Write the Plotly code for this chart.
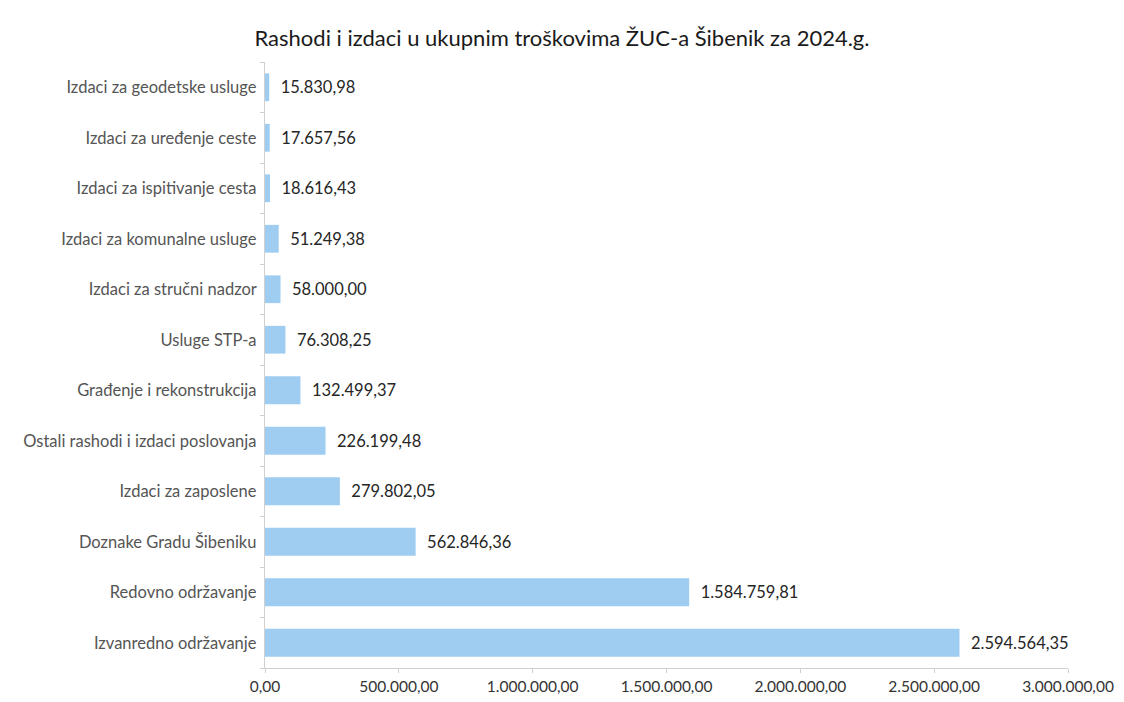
import plotly.graph_objects as go

categories = [
    "Izvanredno održavanje",
    "Redovno održavanje",
    "Doznake Gradu Šibeniku",
    "Izdaci za zaposlene",
    "Ostali rashodi i izdaci poslovanja",
    "Građenje i rekonstrukcija",
    "Usluge STP-a",
    "Izdaci za stručni nadzor",
    "Izdaci za komunalne usluge",
    "Izdaci za ispitivanje cesta",
    "Izdaci za uređenje ceste",
    "Izdaci za geodetske usluge",
]
values = [
    2594564.35,
    1584759.81,
    562846.36,
    279802.05,
    226199.48,
    132499.37,
    76308.25,
    58000.00,
    51249.38,
    18616.43,
    17657.56,
    15830.98,
]
tick_vals = [0, 500000, 1000000, 1500000, 2000000, 2500000, 3000000]

fig = go.Figure(
    go.Bar(
        x=values,
        y=categories,
        orientation="h",
        marker=dict(color="#9fcdf2", line=dict(width=0)),
        texttemplate="  %{x:,.2f}",
        textposition="outside",
        textfont=dict(family="Lato", size=16.5, color="#262626"),
        cliponaxis=False,
    )
)

fig.update_layout(
    width=1108,
    height=686,
    separators=",.",
    paper_bgcolor="white",
    plot_bgcolor="white",
    margin=dict(l=257, r=48, t=54, b=26),
    bargap=0.45,
    showlegend=False,
    title=dict(
        text="Rashodi i izdaci u ukupnim troškovima ŽUC-a Šibenik za 2024.g.",
        x=0.5,
        xanchor="center",
        yref="container",
        y=0.956,
        yanchor="middle",
        font=dict(family="Lato", size=22, color="#1a1a1a"),
    ),
    font=dict(family="Lato"),
)

fig.update_xaxes(
    range=[0, 3000000],
    tickvals=tick_vals,
    tickformat=",.2f",
    showgrid=False,
    zeroline=False,
    showline=True,
    linecolor="#d0d0d0",
    ticks="outside",
    ticklen=4,
    tickcolor="#d0d0d0",
    tickfont=dict(family="Lato", size=15.5, color="#333333"),
    automargin=False,
)
fig.update_yaxes(
    showgrid=False,
    showline=True,
    linecolor="#d0d0d0",
    ticks="outside",
    tickson="boundaries",
    ticklen=4,
    tickcolor="#d0d0d0",
    tickfont=dict(family="Lato", size=16.5, color="#555555"),
    ticksuffix=" ",
    automargin=False,
)

fig.write_html("out.html")
